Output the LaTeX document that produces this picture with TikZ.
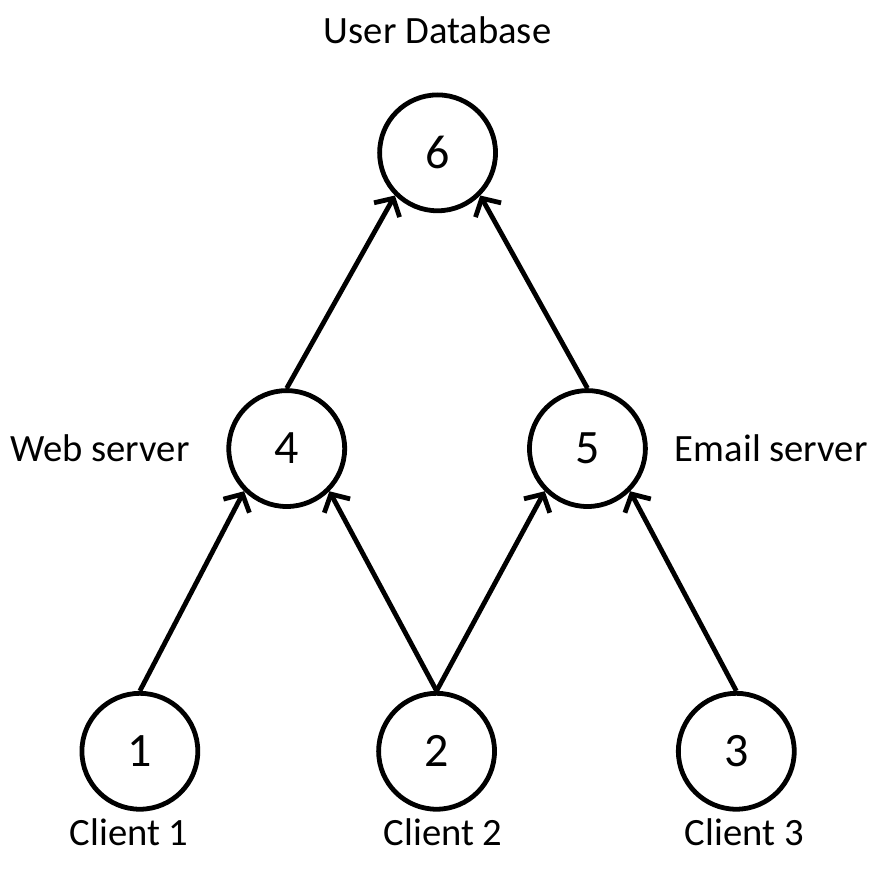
\documentclass[tikz,border=0pt]{standalone}
\usepackage{fontspec}
\setmainfont{Carlito}
\usetikzlibrary{positioning,arrows.meta}

\begin{document}
\begin{tikzpicture}[
    vertex/.style={circle, draw, line width=3.6pt, minimum size=87pt, inner sep=0pt,
      font=\fontsize{36}{43}\selectfont},
    tag/.style={font=\fontsize{29}{35}\selectfont},
    edge/.style={-{Straight Barb[length=10pt,width=22pt]}, line width=3.6pt},
    on grid]
  % nodes
  \node[vertex] (n1) {1};
  \node[vertex, right=222.75pt of n1] (n2) {2};
  \node[vertex, right=225pt of n2] (n3) {3};
  \node[vertex, above right=227.25pt and 110.25pt of n1] (n4) {4};
  \node[vertex, right=225.75pt of n4] (n5) {5};
  \node[vertex, above right=222pt and 113.25pt of n4] (n6) {6};

  % labels
  \node[tag, below left=60.75pt and 8pt of n1] (l1) {Client 1};
  \node[tag, below right=60.75pt and 5pt of n2] (l2) {Client 2};
  \node[tag, below right=60.75pt and 6pt of n3] (l3) {Client 3};
  \node[tag, left=140.25pt of n4] (l4) {Web server};
  \node[tag, right=138pt of n5] (l5) {Email server};
  \node[tag, above=92.25pt of n6] (l6) {User Database};

  % edges
  \draw[edge] (n1.north) -- (n4.south west);
  \draw[edge] (n2.north) -- (n4.south east);
  \draw[edge] (n2.north) -- (n5.south west);
  \draw[edge] (n3.north) -- (n5.south east);
  \draw[edge] (n4.north) -- (n6.south west);
  \draw[edge] (n5.north) -- (n6.south east);

  \useasboundingbox ([xshift=-105pt,yshift=-88.5pt]n1.center) rectangle ++(654pt,652.5pt);
\end{tikzpicture}
\end{document}
